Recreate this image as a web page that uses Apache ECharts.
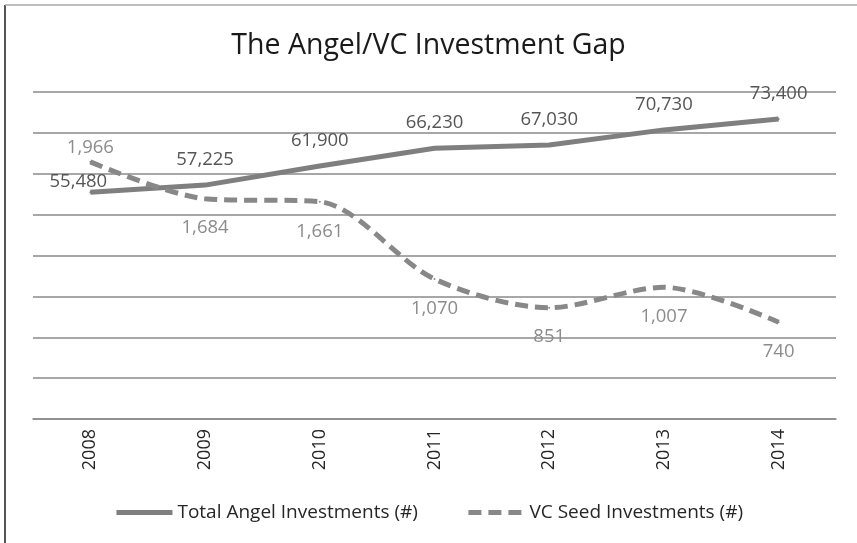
<!DOCTYPE html>
<html>
<head>
  <meta charset="utf-8">
  <title>The Angel/VC Investment Gap</title>
  <script src="https://cdn.jsdelivr.net/npm/echarts@6/dist/echarts.min.js"></script>
  <style>
    html, body { margin: 0; padding: 0; background: #fff; }
    #chart { width: 857px; height: 543px; }
  </style>
</head>
<body>
  <div id="chart"></div>
  <script>
    // values
    var years = ['2008', '2009', '2010', '2011', '2012', '2013', '2014'];
    var angelDeals = [55480, 57225, 61900, 66230, 67030, 70730, 73400];
    var vcSeedDeals = [1966, 1684, 1661, 1070, 851, 1007, 740];

    var FONT = "'Open Sans', 'Liberation Sans', sans-serif";
    var fmt = function (p) { return p.value.toLocaleString('en-US'); };

    // per-point label placement for the VC line (first one sits above)
    var vcData = vcSeedDeals.map(function (v, i) {
      if (i === 0) {
        return { value: v, label: { position: 'top', distance: 4 } };
      }
      return v;
    });
    var angelData = angelDeals.map(function (v, i) {
      if (i === 0) {
        return { value: v, label: { distance: 0, offset: [-12, 0] } };
      }
      return v;
    });

    var chart = echarts.init(document.getElementById('chart'));
    chart.setOption({
      backgroundColor: '#fff',
      animation: false,
      title: {
        text: 'The Angel/VC Investment Gap',
        left: 'center',
        top: 26,
        textStyle: { fontFamily: FONT, fontSize: 28.5, fontWeight: 'normal', color: '#1a1a1a' }
      },
      graphic: [
        { type: 'line', shape: { x1: 5, y1: 5, x2: 5, y2: 543 }, style: { stroke: '#555', lineWidth: 2 } },
        { type: 'line', shape: { x1: 5, y1: 5, x2: 857, y2: 5 }, style: { stroke: '#aaa', lineWidth: 1.5 } }
      ],
      grid: { left: 33, right: 21, top: 92, bottom: 124 },
      legend: {
        bottom: 16,
        left: 'center',
        itemWidth: 56,
        itemHeight: 12,
        itemGap: 48,
        itemStyle: { opacity: 0 },
        lineStyle: { width: 5 },
        textStyle: { fontFamily: FONT, fontSize: 19, color: '#262626' },
        data: ['Total Angel Investments (#)', 'VC Seed Investments (#)']
      },
      xAxis: {
        type: 'category',
        data: years,
        axisLine: { show: true, lineStyle: { color: '#8a8a8a', width: 1.5 } },
        axisTick: { show: false },
        axisLabel: { rotate: 90, margin: 10, fontFamily: FONT, fontSize: 18, color: '#262626' }
      },
      yAxis: [
        {
          type: 'value', min: 0, max: 80000, interval: 10000,
          axisLabel: { show: false },
          axisLine: { show: false },
          axisTick: { show: false },
          splitLine: { show: true, lineStyle: { color: '#8a8a8a', width: 1.5 } }
        },
        {
          type: 'value', min: 0, max: 2500,
          show: false,
          splitLine: { show: false }
        }
      ],
      series: [
        {
          name: 'Total Angel Investments (#)',
          type: 'line',
          yAxisIndex: 0,
          data: angelData,
          symbol: 'circle',
          symbolSize: 2,
          itemStyle: { color: '#7f7f7f' },
          lineStyle: { color: '#7f7f7f', width: 5 },
          label: {
            show: true, position: 'top', distance: 15,
            formatter: fmt,
            fontFamily: FONT, fontSize: 18.5, color: '#555'
          }
        },
        {
          name: 'VC Seed Investments (#)',
          type: 'line',
          yAxisIndex: 1,
          data: vcData,
          smooth: 0.3,
          symbol: 'circle',
          symbolSize: 2,
          itemStyle: { color: '#888' },
          lineStyle: { color: '#888', width: 5, type: [13, 7] },
          label: {
            show: true, position: 'bottom', distance: 19,
            formatter: fmt,
            fontFamily: FONT, fontSize: 18.5, color: '#8c8c8c'
          }
        }
      ]
    });
  </script>
</body>
</html>
